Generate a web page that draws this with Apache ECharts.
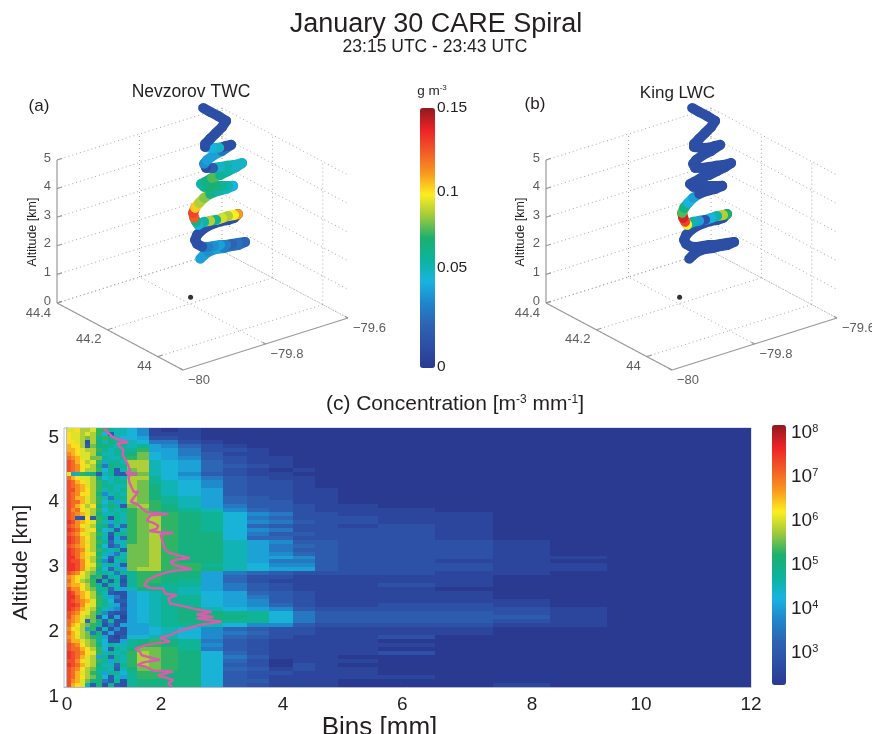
<!DOCTYPE html>
<html><head><meta charset="utf-8">
<style>html,body{margin:0;padding:0;background:#fff}#c{width:872px;height:734px}</style>
<script src="https://cdn.jsdelivr.net/npm/echarts@6/dist/echarts.min.js"></script>
</head><body><div id="c"></div>
<script>
// ---------- flight track (bottom to top of the spiral) ----------
const trackLon=[-79.728,-79.724,-79.716,-79.704,-79.692,-79.680,-79.671,-79.660,-79.671,-79.680,-79.689,-79.698,-79.707,-79.716,-79.725,-79.733,-79.736,-79.733,-79.725,-79.716,-79.706,-79.695,-79.686,-79.677,-79.671,-79.677,-79.686,-79.695,-79.704,-79.713,-79.722,-79.731,-79.734,-79.737,-79.739,-79.736,-79.730,-79.722,-79.713,-79.701,-79.689,-79.678,-79.686,-79.695,-79.704,-79.713,-79.722,-79.727,-79.721,-79.710,-79.698,-79.686,-79.674,-79.665,-79.677,-79.687,-79.698,-79.709,-79.719,-79.722,-79.718,-79.707,-79.695,-79.681,-79.689,-79.699,-79.710,-79.721,-79.721,-79.713,-79.704,-79.695,-79.689,-79.701,-79.713,-79.724];
const trackLat=[44.277,44.272,44.265,44.253,44.241,44.229,44.220,44.210,44.220,44.229,44.238,44.247,44.256,44.265,44.274,44.281,44.284,44.281,44.274,44.265,44.254,44.244,44.235,44.226,44.220,44.226,44.235,44.244,44.253,44.262,44.271,44.280,44.283,44.286,44.287,44.284,44.278,44.271,44.262,44.250,44.238,44.228,44.235,44.244,44.253,44.262,44.271,44.275,44.269,44.259,44.247,44.235,44.223,44.214,44.226,44.237,44.247,44.257,44.268,44.271,44.266,44.256,44.244,44.231,44.238,44.249,44.259,44.269,44.269,44.262,44.253,44.244,44.238,44.250,44.262,44.272];
const trackAlt=[0.885,0.990,1.130,1.234,1.269,1.339,1.374,1.479,1.444,1.409,1.374,1.374,1.339,1.304,1.304,1.409,1.549,1.724,1.899,2.039,2.144,2.214,2.249,2.318,2.458,2.423,2.388,2.318,2.249,2.214,2.179,2.074,2.179,2.318,2.493,2.668,2.843,3.018,3.158,3.263,3.333,3.438,3.438,3.438,3.438,3.438,3.403,3.507,3.577,3.717,3.822,3.962,4.102,4.242,4.172,4.137,4.102,4.067,4.067,4.207,4.347,4.522,4.662,4.871,4.836,4.766,4.766,4.801,4.906,5.081,5.291,5.501,5.711,5.885,6.025,6.165];
const twc=[.045,.045,.04,.045,.035,.03,.03,.025,.03,.025,.035,.045,.04,.035,.015,.012,.012,.012,.012,.012,.012,.012,.012,.012,.112,.1,.09,.095,.065,.09,.06,.05,.07,.125,.13,.105,.09,.085,.07,.06,.055,.05,.06,.065,.07,.075,.07,.06,.07,.08,.065,.06,.055,.055,.055,.06,.055,.02,.012,.04,.045,.045,.03,.012,.012,.055,.05,.012,.012,.012,.012,.012,.012,.012,.012,.012];
const lwc=[.012,.012,.012,.012,.012,.012,.012,.012,.012,.012,.012,.012,.012,.012,.012,.012,.012,.012,.012,.012,.012,.012,.012,.012,.075,.09,.06,.05,.015,.045,.06,.1,.13,.14,.08,.07,.05,.045,.012,.012,.012,.012,.012,.012,.012,.012,.012,.012,.012,.012,.012,.012,.012,.012,.012,.012,.012,.012,.012,.012,.012,.012,.012,.012,.012,.012,.012,.012,.012,.012,.012,.012,.012,.012,.012,.012];
const siteLon=-79.78, siteLat=44.23;

// ---------- 3-D box ticks ----------
const lonRange=[-80,-79.6], latRange=[43.9,44.4], altRange=[0,5];
const lonTicks=[-80,-79.8,-79.6], latTicks=[44.4,44.2,44], altTicks=[0,1,2,3,4,5];
const twcTickLabels=['0','0.05','0.1','0.15'], twcTickPos=[0.0006,0.0577,0.1015,0.15];

// ---------- particle spectra: bin edges (mm on the axis), log10 concentration code per altitude row, top row first ----------
const binEdges=[0,.07,.14,.23,.32,.40,.51,.61,.72,.82,.93,1.05,1.23,1.44,1.65,1.95,2.35,2.74,3.16,3.54,3.96,4.35,4.75,5.46,6.46,7.47,8.47,9.47,12];
const concRows=[
"ffgeefcca9986101000000000000","gffefec839986111000000000000","gffedeaca9887221000000000000","ggfe2eb9ba998552100000000000","hgge3dbba9a9a764210000000000","hhgfeeca9aaac775221000000000","ihgffeb99aabd875311000000000","jihffdda99acd876321100000000",
"kjhgefc7aa9ee987421100000000","kjigfeb5baaee987432100000000","kjigeec8a39de987421010000000","g79cab39a33cd986321100000000","jhgffeb89a9eea87532110000000","kjhgfeca9aaeda98632210000000","kjihfecaa99edb98632210000000","kkihgec9a9aedb98732211000000",
"kjiggeb69a9edb98732211000000","kjhhfec95aaedba9743211000000","kjjhfec8a79edca9743311000000","kjhgegb9ba3decb9753321100000","kijgfec8a9acdcba964321110000","kjihfeb99a9cddcba86522111000","kj32g3ca2a9cdecba85422211000","lkihgfc97a9cdecba86532211000",
"kjigfeab594cdecba84322121000","lkjhfgb8939cdecba86522221000","kjigfec93aacdecbb85332221000","lkjhgeb9274cdecbb84422221000","lkjhfeca499cdecbb97633222100","kjihgeb8359ddecbb97543222100","lkjifeca9a3ddecbb97533222100","lkjhgfb9759ddecbb97643222100",
"lljhfec83a9ddecbb97763222110","lkkigeb629addecbb97553221100","llkigfc9a73ddecca98663222110","llkifeb84a7deeccb98773222110","kjigedaa95aaccbb754322221100","ihgfebc3a93accbb742211111000","jhgedc2a3a2accba742111111000","ihhgeca3a93acbaa753211121000",
"kiigedaa4979bba9753211110000","lkihgeb9322789a9874321111000","lljhgec9752789aa875321111000","lkjihfca833789aa876321111100","llkigfca972789aa876421122100","lkjhfeb9763789ab987632222210","kjigfdb6322789abbaa853333210","kihfed38271789abbba853333310",
"jihf4db3a22789abbaa853333210","jhgedca2527779aa986632222110","igfe7c3926277898643221111000","jhged5b372277898654221111000","ihfedca721388998643211120000","jhhfeda8227abcba532111100000","kjigedb8a99abcba632111110000","kjjhgec83a9bddca532111100000",
"lkjigfc9a9acedcb842111120000","lkjhfe7a4a9cedcb853111000000","kkigfeca7a9cedcb842011100000","lkjhfeb994acedcb832021000000","kjigedaa939bddcb843121100000","kjhfeca7aa8accbb832211100000","kjhgedb8397accbb832111110000","kihfdbb53a2abbbb833111000000",
"khgf93b2a32abbbb832111000100"];
const concColorTicks=[3,4,5,6,7,8];

// ---------- mean particle size line ----------
const meanBin=[.649,.708,.784,.871,1.076,.883,.942,.988,.977,1.018,1.076,1.105,1.035,1.234,1.076,1.094,1.135,1.175,1.251,1.193,1.117,1.222,1.327,1.398,1.778,1.468,1.398,1.526,1.602,1.573,1.444,1.632,1.865,1.643,1.678,1.719,1.778,1.924,2.158,1.924,1.807,1.895,2.187,1.924,1.749,1.573,1.427,1.351,1.456,1.690,1.719,1.924,1.778,1.807,2.041,2.275,2.538,2.275,2.567,2.275,2.713,2.333,2.099,1.924,1.807,1.632,1.807,1.398,1.193,1.281,1.310,1.632,1.339,1.234,1.398,1.515,1.865,1.602,1.865,1.778,1.836];
const meanAlt=[4.99,4.94,4.87,4.83,4.78,4.76,4.70,4.67,4.59,4.52,4.42,4.34,4.30,4.30,4.26,4.16,4.08,4.01,4.02,3.95,3.86,3.83,3.75,3.70,3.67,3.65,3.57,3.53,3.49,3.44,3.41,3.39,3.38,3.35,3.24,3.13,3.08,3.04,2.99,2.97,2.93,2.88,2.82,2.80,2.77,2.72,2.66,2.57,2.53,2.52,2.44,2.42,2.37,2.29,2.25,2.20,2.16,2.12,2.08,2.06,2.01,1.96,1.90,1.85,1.80,1.76,1.70,1.65,1.59,1.54,1.49,1.42,1.38,1.34,1.31,1.25,1.24,1.18,1.11,1.06,1.00];
const binTickPos=[0,1.65,3.79,5.88,8.16,10.07,12], binTickLabels=['0','2','4','6','8','10','12'];
const altAxisTicks=[1,1.5,2,2.5,3,3.5,4,4.5,5], altAxisLabels=[1,2,3,4,5];

// ---------- styling ----------
const jet=['#2a3990','#2c4fa5','#2e63b3','#1f86cb','#1ab3df','#0db39c','#1bb06e','#9ec93c','#fcee21','#f8971d','#f15a28','#ec2227','#8f1a1e'];
const FONT='"Liberation Sans",Arial,sans-serif', INK='#231f20';

// oblique view of the box: plane position of a (lon,lat,alt) point
function proj(lon,lat,alt){
  const u=lon-lonRange[0], v=lat-latRange[0];
  return [183+412.5*u-252*v, 370-130*u-134*v-28.6*alt];
}
function seg(a,b){const p=proj(...a),q=proj(...b);return [p[0],p[1],q[0],q[1]];}
function segRender(style){
  return function(params,api){
    const a=api.coord([api.value(0),api.value(1)]),b=api.coord([api.value(2),api.value(3)]);
    const s=Object.assign({},style);
    if(!s.stroke) s.stroke=api.visual('color');
    return {type:'line',shape:{x1:a[0],y1:a[1],x2:b[0],y2:b[1]},style:s,silent:true};
  };
}
const [lo0,lo1]=lonRange,[la0,la1]=latRange,[z0,z1]=altRange;
const dotted=[],solid=[];
lonTicks.forEach(l=>dotted.push(seg([l,la0,0],[l,la1,0])));
latTicks.forEach(l=>dotted.push(seg([lo0,l,0],[lo1,l,0])));
altTicks.forEach(z=>{dotted.push(seg([lo0,la1,z],[lo1,la1,z]));dotted.push(seg([lo1,la1,z],[lo1,la0,z]));});
[-79.8,-79.6].forEach(l=>dotted.push(seg([l,la1,z0],[l,la1,z1])));
[44.2,44].forEach(l=>dotted.push(seg([lo1,l,z0],[lo1,l,z1])));
solid.push(seg([lo0,la1,z0],[lo0,la1,z1]),seg([lo0,la1,0],[lo0,la0,0]),seg([lo0,la0,0],[lo1,la0,0]));
altTicks.forEach(z=>solid.push(seg([lo0,la1,z],[lo0+.012,la1,z])));
latTicks.forEach(l=>solid.push(seg([lo0,l,0],[lo0+.012,l,0])));
lonTicks.forEach(l=>solid.push(seg([l,la0,0],[l,la0+.012,0])));

function trackSegments(vals){
  const out=[];
  for(let i=0;i<vals.length-1;i++){
    const s=seg([trackLon[i],trackLat[i],trackAlt[i]],[trackLon[i+1],trackLat[i+1],trackAlt[i+1]]);
    out.push([...s,vals[i]]);
  }
  return out;
}
function labelSeries(g,data,align,off){
  return {type:'scatter',xAxisIndex:g,yAxisIndex:g,symbolSize:1,silent:true,itemStyle:{color:'rgba(0,0,0,0)'},data,
    label:{show:true,position:'inside',align,verticalAlign:'middle',offset:off,formatter:p=>p.value[2],fontFamily:FONT,fontSize:13,color:'#333'}};
}
function panelSeries(g,vals){
  const minus=v=>String(v).replace('-','\u2212');
  return [
    {type:'custom',xAxisIndex:g,yAxisIndex:g,data:dotted,renderItem:segRender({stroke:'#a8a8a8',lineWidth:1,lineDash:[1,3]}),z:1},
    {type:'custom',xAxisIndex:g,yAxisIndex:g,data:solid,renderItem:segRender({stroke:'#999',lineWidth:1.2}),z:2},
    labelSeries(g,altTicks.map(z=>{const p=proj(lo0,la1,z);return [p[0],p[1],String(z)];}),'right',[-6,-2]),
    labelSeries(g,latTicks.map(l=>{const p=proj(lo0,l,0);return [p[0],p[1],String(l)];}),'right',[-6,10]),
    labelSeries(g,lonTicks.map(l=>{const p=proj(l,la0,0);return [p[0],p[1],minus(l)];}),'left',[5,10]),
    {type:'scatter',xAxisIndex:g,yAxisIndex:g,symbolSize:5,silent:true,itemStyle:{color:'#000'},data:[proj(siteLon,siteLat,0)],z:3},
    {type:'custom',xAxisIndex:g,yAxisIndex:g,data:trackSegments(vals),dimensions:['x0','y0','x1','y1','v'],
      encode:{x:[0,2],y:[1,3]},renderItem:segRender({lineWidth:10,lineCap:'round'}),z:4}
  ];
}
const cells=[];
concRows.forEach((row,r)=>{
  for(let c=0;c<binEdges.length-1;c++){
    cells.push([binEdges[c],binEdges[c+1],5-r*4/concRows.length,5-(r+1)*4/concRows.length,2.3+0.25*parseInt(row[c],36)]);
  }
});
function cellRender(params,api){
  const a=api.coord([api.value(0),api.value(2)]),b=api.coord([api.value(1),api.value(3)]);
  const x=Math.round(a[0]),y=Math.round(a[1]);
  return {type:'rect',shape:{x,y,width:Math.round(b[0])-x,height:Math.round(b[1])-y},style:{fill:api.visual('color')},silent:true};
}
const s0=panelSeries(0,twc), s1=panelSeries(1,lwc);
const series=[...s0,...s1,
  {type:'custom',xAxisIndex:2,yAxisIndex:2,data:cells,dimensions:['b0','b1','a0','a1','logc'],encode:{x:[0,1],y:[2,3]},renderItem:cellRender,z:1},
  {type:'line',xAxisIndex:2,yAxisIndex:2,data:meanBin.map((b,i)=>[b,meanAlt[i]]),symbol:'none',silent:true,lineStyle:{color:'#d65fa9',width:2.4},z:5}
];
const idxA=6, idxB=13, idxC=14;
const hidden={show:false};
function txt(text,x,y,size,extra){
  return Object.assign({type:'text',x,y,silent:true,style:Object.assign({text,align:'center',verticalAlign:'middle',font:size+'px '+FONT,fill:INK},(extra&&extra.style)||{})},extra&&extra.rotation?{rotation:extra.rotation}:{});
}
const sup=(sz,p)=>({s:{fontSize:sz,fontFamily:FONT,fill:INK,color:INK,verticalAlign:'top',padding:[0,0,p,0]}});
const option={
  animation:false,backgroundColor:'#fff',
  grid:[
    {left:0,top:0,width:440,height:400,outerBoundsMode:'none'},
    {left:489,top:0,width:383,height:400,outerBoundsMode:'none'},
    {left:64,top:428,width:687,height:259,show:true,borderColor:'#b9bdd6',borderWidth:1,backgroundColor:'transparent',outerBoundsMode:'none'},
    {left:420,top:108,width:15,height:260,outerBoundsMode:'none'},
    {left:772,top:425,width:14,height:260,outerBoundsMode:'none'}
  ],
  xAxis:[
    {type:'value',gridIndex:0,min:0,max:440,show:false},
    {type:'value',gridIndex:1,min:0,max:383,show:false},
    {type:'value',gridIndex:2,min:-.0526,max:12,splitLine:hidden,axisTick:hidden,
      axisLine:{show:true,lineStyle:{color:'#b5b8c8',width:1}},
      name:'Bins [mm]',nameLocation:'middle',nameGap:15,
      nameTextStyle:{fontFamily:FONT,fontSize:26,color:INK,padding:[0,56,0,0]},
      axisLabel:{customValues:binTickPos,formatter:v=>binTickLabels[binTickPos.indexOf(v)],margin:8,fontFamily:FONT,fontSize:19,color:INK,verticalAlign:'top',hideOverlap:false}},
    {type:'value',gridIndex:3,show:false,min:0,max:1},
    {type:'value',gridIndex:4,show:false,min:0,max:1}
  ],
  yAxis:[
    {type:'value',gridIndex:0,min:0,max:400,inverse:true,show:false},
    {type:'value',gridIndex:1,min:0,max:400,inverse:true,show:false},
    {type:'value',gridIndex:2,min:1,max:5,splitLine:hidden,
      axisLine:{show:true,lineStyle:{color:'#b5b8c8',width:2}},
      axisTick:{show:true,inside:true,length:4,customValues:altAxisTicks,lineStyle:{color:'#b5b8c8'}},
      name:'Altitude [km]',nameLocation:'middle',nameRotate:90,nameGap:32,
      nameTextStyle:{fontFamily:FONT,fontSize:21,color:INK,padding:[0,10,0,0]},
      axisLabel:{customValues:altAxisLabels,margin:5,fontFamily:FONT,fontSize:19,color:INK,verticalAlign:'top'}},
    {type:'value',gridIndex:3,min:0,max:.15,position:'right',splitLine:hidden,axisLine:hidden,axisTick:hidden,
      axisLabel:{customValues:twcTickPos,formatter:v=>twcTickLabels[twcTickPos.indexOf(v)],margin:2,fontFamily:FONT,fontSize:15.5,color:INK}},
    {type:'value',gridIndex:4,min:2.27,max:8.18,position:'right',splitLine:hidden,axisLine:hidden,axisTick:hidden,
      axisLabel:{customValues:concColorTicks,formatter:v=>'10{s|'+v+'}',margin:5,fontFamily:FONT,fontSize:19,color:INK,
        rich:{s:{fontSize:11,fontFamily:FONT,color:INK,verticalAlign:'top',padding:[0,0,6,0]}}}}
  ],
  visualMap:[
    {type:'continuous',seriesIndex:[idxA,idxB],dimension:4,min:0,max:.15,left:420,top:108,itemWidth:15,itemHeight:260,padding:0,calculable:false,text:['',''],inRange:{color:jet}},
    {type:'continuous',seriesIndex:idxC,dimension:4,min:2.27,max:8.18,left:772,top:425,itemWidth:14,itemHeight:260,padding:0,calculable:false,text:['',''],inRange:{color:jet}}
  ],
  series,
  graphic:[
    txt('January 30 CARE Spiral',436,25,27),
    txt('23:15 UTC - 23:43 UTC',435,47,17.5),
    txt('Nevzorov TWC',191,92,17.5),
    txt('King LWC',677.5,93,17),
    txt('(a)',39,106,17),
    txt('(b)',535,104,17),
    txt('g m{s|-3}',432,91,13.5,{style:{rich:sup(8,6)}}),
    txt('(c) Concentration [m{s|-3} mm{s|-1}]',455,404,21,{style:{rich:sup(12,8)}}),
    txt('Altitude [km]',33,232,12.5,{rotation:Math.PI/2}),
    txt('Altitude [km]',521,232,12.5,{rotation:Math.PI/2})
  ]
};
echarts.init(document.getElementById('c'),null,{renderer:'canvas'}).setOption(option);
</script></body></html>
